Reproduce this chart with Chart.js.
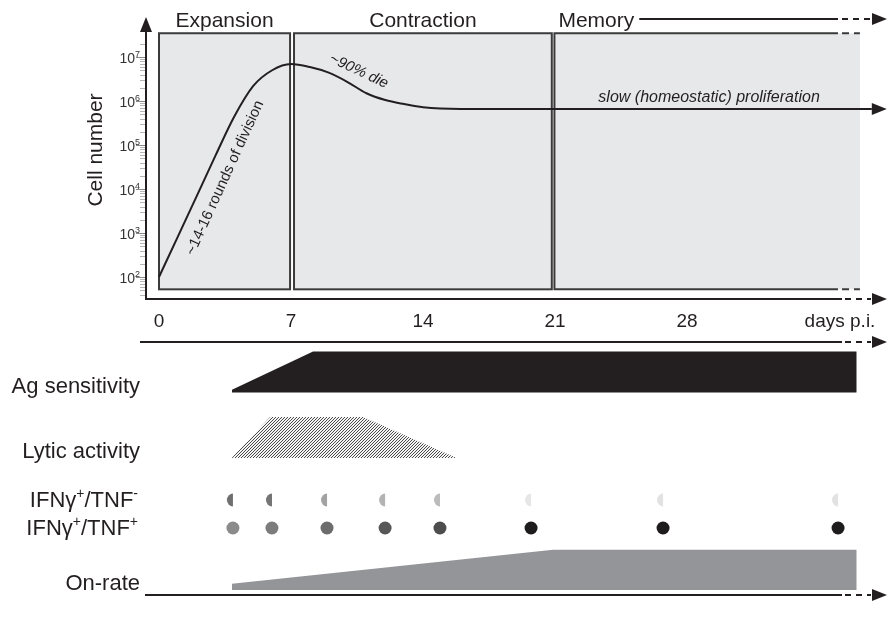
<!DOCTYPE html>
<html>
<head>
<meta charset="utf-8">
<script src="https://cdn.jsdelivr.net/npm/chart.js@4.4.0/dist/chart.umd.min.js"></script>
<style>
  html, body { margin: 0; padding: 0; background: #fff; }
</style>
</head>
<body>
<canvas id="myChart" width="890" height="621"></canvas>
<script>
// values
const curveDays  = [0, 1, 2, 3, 4, 5, 6, 7, 8, 9, 10, 11, 12, 13, 14, 16, 18, 21, 28, 37.8];
const cellNumber = [1e2, 8.3e2, 6.9e3, 5.8e4, 4.5e5, 2.2e6, 5e6, 6.9e6, 5.9e6, 4.4e6, 2.7e6, 1.5e6, 1.05e6, 8.5e5, 7.2e5, 6.6e5, 6.6e5, 6.6e5, 6.6e5, 6.6e5];

const phaseNames = ["Expansion", "Contraction", "Memory"];
const phaseStart = [0, 7.16, 20.97];
const phaseEnd   = [6.95, 20.83, 37.17];

const dayTicks    = [0, 7, 14, 21, 28];
const decadeTicks = [2, 3, 4, 5, 6, 7];

const agDays  = [3.87, 8.17, 37.0];
const agLevel = [0.07, 1, 1];

const lyticDays  = [3.85, 5.89, 10.82, 15.79];
const lyticLevel = [0, 1, 1, 0];

const cytokineDays = [3.92, 5.99, 8.91, 11.99, 14.9, 19.73, 26.73, 36.01];
const tnfNegShade  = ["#6f6f6f", "#757575", "#a2a2a2", "#b3b3b3", "#bcbcbc", "#e6e6e6", "#e2e2e2", "#e2e2e2"];
const tnfPosShade  = ["#8b8b8b", "#7c7c7c", "#6c6c6c", "#575757", "#4d4d4d", "#1f1c1d", "#1f1c1d", "#1f1c1d"];

const onRateDays  = [3.87, 20.9, 37.0];
const onRateLevel = [0.15, 0.98, 0.98];

// layout
const W = 890, H = 621;
const ORIGIN_X = 159, PX_PER_DAY = 132 / 7;
const REF_Y = 57, PX_PER_DECADE = 44;     // 10^7 sits at y=57
const ROW_UNIT = 41;
const FONT = "'Liberation Sans', Arial, sans-serif";
const INK = "#231f20";

const rowBottomPx = { ag: 392.5, lytic: 458, tnfNeg: 500, tnfPos: 528, onRate: 590 };
const ROW = {};
for (const k in rowBottomPx) ROW[k] = (H - rowBottomPx[k]) / ROW_UNIT;

const BOX_TOP = Math.pow(10, 7.54), BOX_BOTTOM = Math.pow(10, 1.72);

const ctx = document.getElementById("myChart").getContext("2d");

function hatch() {
  const c = document.createElement("canvas");
  c.width = 3; c.height = 3;
  const g = c.getContext("2d");
  g.fillStyle = "#f4f4f4"; g.fillRect(0, 0, 3, 3);
  g.fillStyle = "#4a4a4a";
  g.fillRect(2, 0, 1, 1); g.fillRect(1, 1, 1, 1); g.fillRect(0, 2, 1, 1);
  return ctx.createPattern(c, "repeat");
}

function halfDot(color) {
  const c = document.createElement("canvas");
  c.width = 14; c.height = 14;
  const g = c.getContext("2d");
  g.fillStyle = color;
  g.beginPath();
  g.ellipse(7, 7, 6, 6.5, 0, Math.PI / 2, Math.PI * 1.5);
  g.closePath();
  g.fill();
  return c;
}

function rowData(days, level, base) {
  return days.map((d, i) => ({ x: d, y: base + level[i] }));
}

function drawRich(c, parts, xRight, yBase, size) {
  const sup = Math.round(size * 0.62);
  let w = 0;
  parts.forEach(p => { c.font = (p.sup ? sup : size) + "px " + FONT; p.w = c.measureText(p.t).width; w += p.w; });
  let xx = xRight - w;
  parts.forEach(p => {
    c.font = (p.sup ? sup : size) + "px " + FONT;
    c.fillText(p.t, xx, p.sup ? yBase - size * 0.4 : yBase);
    xx += p.w;
  });
}

function arrowAxis(c, x0, y, solidEnd) {
  c.lineWidth = 2;
  c.strokeStyle = INK;
  c.beginPath(); c.moveTo(x0, y); c.lineTo(solidEnd, y); c.stroke();
  c.setLineDash([6, 5]);
  c.beginPath(); c.moveTo(solidEnd + 3, y); c.lineTo(871, y); c.stroke();
  c.setLineDash([]);
  c.fillStyle = INK;
  c.beginPath(); c.moveTo(872, y - 6); c.lineTo(887, y); c.lineTo(872, y + 6); c.closePath(); c.fill();
}

const decor = {
  id: "decor",
  beforeDatasetsDraw(chart) {
    const c = chart.ctx, x = chart.scales.x, y = chart.scales.y;
    const top = y.getPixelForValue(BOX_TOP), bot = y.getPixelForValue(BOX_BOTTOM);
    c.save();
    c.lineWidth = 2;
    c.strokeStyle = "#3b3b3b";
    phaseNames.forEach((name, i) => {
      const l = x.getPixelForValue(phaseStart[i]), r = x.getPixelForValue(phaseEnd[i]);
      c.fillStyle = "#e7e8e9";
      c.fillRect(l, top, r - l, bot - top);
      if (i < phaseNames.length - 1) {
        c.strokeRect(l, top, r - l, bot - top);
      } else {
        c.beginPath();
        c.moveTo(838, top); c.lineTo(l, top); c.lineTo(l, bot); c.lineTo(838, bot);
        c.stroke();
        c.setLineDash([7, 5]);
        c.beginPath();
        c.moveTo(842, top); c.lineTo(r, top);
        c.moveTo(842, bot); c.lineTo(r, bot);
        c.stroke();
        c.setLineDash([]);
      }
    });
    c.restore();
  },
  afterDatasetsDraw(chart) {
    const c = chart.ctx, x = chart.scales.x, y = chart.scales.y;
    c.save();
    c.fillStyle = INK;
    c.textBaseline = "alphabetic";

    // y axis + ticks
    const axisX = 146, axisY = y.getPixelForValue(Math.pow(10, 1.5));
    for (let e = 1; e <= 7; e++) {
      for (let m = 2; m <= 9; m++) {
        const v = m * Math.pow(10, e);
        if (v < 35 || v > 2.5e7) continue;
        const py = Math.round(y.getPixelForValue(v)) + 0.5;
        c.strokeStyle = "#b5b5b5"; c.lineWidth = 1;
        c.beginPath(); c.moveTo(140, py); c.lineTo(axisX, py); c.stroke();
      }
    }
    decadeTicks.forEach(e => {
      const py = Math.round(y.getPixelForValue(Math.pow(10, e))) + 0.5;
      c.strokeStyle = "#888"; c.lineWidth = 1;
      c.beginPath(); c.moveTo(136, py); c.lineTo(axisX, py); c.stroke();
      c.fillStyle = "#333";
      drawRich(c, [{ t: "10" }, { t: String(e), sup: true }], 140, py + 5, 14);
    });
    c.fillStyle = INK;
    c.strokeStyle = INK; c.lineWidth = 2;
    c.beginPath(); c.moveTo(axisX, axisY); c.lineTo(axisX, 31); c.stroke();
    c.beginPath(); c.moveTo(axisX - 6, 32); c.lineTo(axisX, 17); c.lineTo(axisX + 6, 32); c.closePath(); c.fill();

    // x axes
    arrowAxis(c, axisX - 1, axisY, 842);
    arrowAxis(c, 140, 342, 842);
    arrowAxis(c, 145, 595, 842);

    c.font = "19px " + FONT;
    c.textAlign = "center";
    dayTicks.forEach(d => c.fillText(String(d), x.getPixelForValue(d), 327));
    c.fillText("days p.i.", 840, 327);

    // y title
    c.save();
    c.translate(102, 150);
    c.rotate(-Math.PI / 2);
    c.font = "21px " + FONT;
    c.fillText("Cell number", 0, 0);
    c.restore();

    // phase titles
    c.font = "21px " + FONT;
    c.fillText(phaseNames[0], x.getPixelForValue((phaseStart[0] + phaseEnd[0]) / 2), 27);
    c.fillText(phaseNames[1], x.getPixelForValue((phaseStart[1] + phaseEnd[1]) / 2), 27);
    c.textAlign = "left";
    const memX = x.getPixelForValue(phaseStart[2]) + 4;
    c.fillText(phaseNames[2], memX, 27);
    const memEnd = memX + c.measureText(phaseNames[2]).width + 5;
    c.lineWidth = 2; c.strokeStyle = INK;
    c.beginPath(); c.moveTo(memEnd, 19); c.lineTo(838, 19); c.stroke();
    c.setLineDash([6, 5]);
    c.beginPath(); c.moveTo(842, 19); c.lineTo(871, 19); c.stroke();
    c.setLineDash([]);
    c.beginPath(); c.moveTo(872, 13); c.lineTo(887, 19); c.lineTo(872, 25); c.closePath(); c.fill();

    // curve arrow head
    const lastY = y.getPixelForValue(cellNumber[cellNumber.length - 1]);
    const lastX = x.getPixelForValue(curveDays[curveDays.length - 1]);
    c.beginPath(); c.moveTo(lastX, lastY - 6); c.lineTo(lastX + 15, lastY); c.lineTo(lastX, lastY + 6); c.closePath(); c.fill();

    // curve annotations
    const note = (txt, d, v, ang, font) => {
      c.save();
      c.translate(x.getPixelForValue(d), y.getPixelForValue(v));
      c.rotate(ang * Math.PI / 180);
      c.font = font;
      c.textAlign = "center";
      c.textBaseline = "middle";
      c.fillText(txt, 0, 0);
      c.restore();
    };
    note("~14-16 rounds of division", 3.5, Math.pow(10, 4.25), -65.5, "15px " + FONT);
    note("~90% die", 10.6, Math.pow(10, 6.68), 25, "italic 15px " + FONT);
    note("slow (homeostatic) proliferation", 29.17, Math.pow(10, 6.07), 0, "italic 16px " + FONT);

    // row labels
    c.textAlign = "right";
    c.font = "22px " + FONT;
    c.fillText("Ag sensitivity", 140, rowBottomPx.ag);
    c.fillText("Lytic activity", 140, rowBottomPx.lytic);
    c.fillText("On-rate", 140, rowBottomPx.onRate);
    c.textAlign = "left";
    drawRich(c, [{ t: "IFNγ" }, { t: "+", sup: true }, { t: "/TNF" }, { t: "-", sup: true }], 138, 507, 22);
    drawRich(c, [{ t: "IFNγ" }, { t: "+", sup: true }, { t: "/TNF" }, { t: "+", sup: true }], 138, 535, 22);
    c.restore();
  }
};

const xMin = -ORIGIN_X / PX_PER_DAY;
const xMax = (W - ORIGIN_X) / PX_PER_DAY;
const yMax = Math.pow(10, 7 + REF_Y / PX_PER_DECADE);
const yMin = Math.pow(10, 7 - (H - REF_Y) / PX_PER_DECADE);

new Chart(ctx, {
  type: "line",
  data: {
    datasets: [
      {
        label: "Cell number",
        yAxisID: "y",
        data: curveDays.map((d, i) => ({ x: d, y: cellNumber[i] })),
        borderColor: INK,
        borderWidth: 2,
        pointRadius: 0,
        cubicInterpolationMode: "monotone",
        fill: false
      },
      {
        label: "Ag sensitivity",
        yAxisID: "y2",
        data: rowData(agDays, agLevel, ROW.ag),
        backgroundColor: INK,
        borderWidth: 0,
        pointRadius: 0,
        fill: { value: ROW.ag }
      },
      {
        label: "Lytic activity",
        yAxisID: "y2",
        data: rowData(lyticDays, lyticLevel, ROW.lytic),
        backgroundColor: hatch(),
        borderWidth: 0,
        pointRadius: 0,
        fill: { value: ROW.lytic }
      },
      {
        label: "IFNg+/TNF-",
        yAxisID: "y2",
        showLine: false,
        data: cytokineDays.map(d => ({ x: d, y: ROW.tnfNeg })),
        pointStyle: tnfNegShade.map(halfDot),
        pointRadius: 7
      },
      {
        label: "IFNg+/TNF+",
        yAxisID: "y2",
        showLine: false,
        data: cytokineDays.map(d => ({ x: d, y: ROW.tnfPos })),
        pointStyle: "circle",
        pointRadius: 6.5,
        pointBackgroundColor: tnfPosShade,
        pointBorderWidth: 0
      },
      {
        label: "On-rate",
        yAxisID: "y2",
        data: rowData(onRateDays, onRateLevel, ROW.onRate),
        backgroundColor: "#939598",
        borderWidth: 0,
        pointRadius: 0,
        fill: { value: ROW.onRate }
      }
    ]
  },
  options: {
    responsive: false,
    animation: false,
    devicePixelRatio: 1,
    events: [],
    layout: { padding: 0, autoPadding: false },
    plugins: {
      legend: { display: false },
      tooltip: { enabled: false },
      title: { display: false }
    },
    scales: {
      x: { type: "linear", display: false, min: xMin, max: xMax, bounds: "data" },
      y: { type: "logarithmic", display: false, min: yMin, max: yMax, bounds: "data" },
      y2: { type: "linear", display: false, min: 0, max: H / ROW_UNIT }
    }
  },
  plugins: [decor]
});
</script>
</body>
</html>
